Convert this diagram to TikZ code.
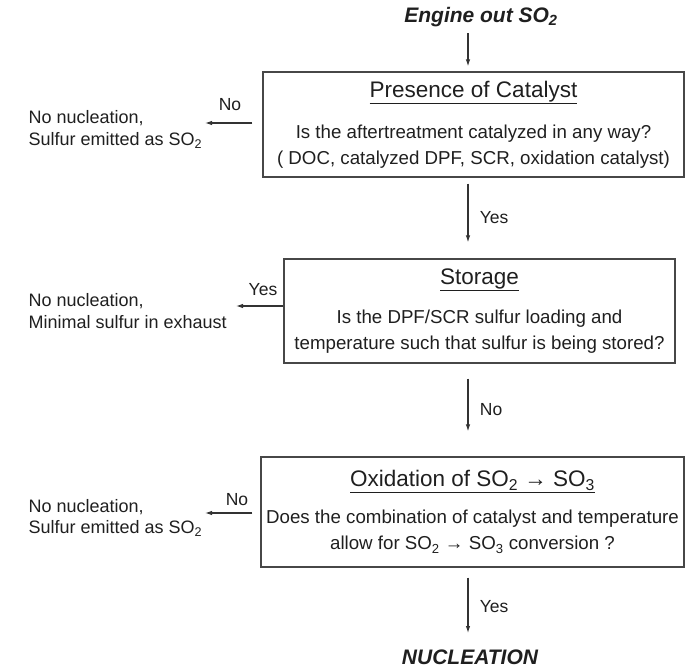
\documentclass[tikz,border=0pt]{standalone}
\usepackage{fontspec}
\setmainfont{Liberation Sans}
\usetikzlibrary{arrows.meta}

\newcommand{\sub}[1]{\textsubscript{#1}}

\begin{document}
\begin{tikzpicture}[x=1pt,y=-1pt,
	every node/.style={text=black!88},
	box/.style={draw=black!72,line width=1.2pt,inner sep=0pt,align=center,
		font=\fontsize{18.7}{26}\selectfont},
	side/.style={anchor=west,align=left,font=\fontsize{18}{21.5}\selectfont},
	lbl/.style={font=\fontsize{17.5}{20}\selectfont},
	big/.style={font=\fontsize{21}{25}\selectfont\bfseries\itshape},
	arr/.style={-{Latex[length=7pt,width=4.5pt]},draw=black!80,line width=1.1pt}]
	\useasboundingbox (0,0) rectangle (685,671);
	\coordinate (axis) at (468,0);

	\node[big] (src) at (481,17) {Engine out SO\sub{2}};
	\node[box,minimum width=421pt,minimum height=105pt] (cat) at (473.5,124.5)
		{{\fontsize{22.5}{26}\selectfont\underline{Presence of Catalyst}}\\[15pt]
		Is the aftertreatment catalyzed in any way?\\
		( DOC, catalyzed DPF, SCR, oxidation catalyst)};
	\node[box,minimum width=391pt,minimum height=104pt] (sto) at (479.5,311)
		{{\fontsize{22.5}{26}\selectfont\underline{Storage}}\\[13pt]
		Is the DPF/SCR sulfur loading and\\
		temperature such that sulfur is being stored?};
	\node[box,minimum width=423pt,minimum height=110pt] (oxi) at (472.5,512)
		{{\fontsize{22.5}{26}\selectfont\underline{Oxidation of SO\sub{2} → SO\sub{3}}}\\[11pt]
		Does the combination of catalyst and temperature\\
		allow for SO\sub{2} → SO\sub{3} conversion ?};
	\node[big] (nuc) at (470,657) {NUCLEATION};

	\node[side] (out1) at (25,129.5) {No nucleation,\\Sulfur emitted as SO\sub{2}};
	\node[side] (out2) at (25,311) {No nucleation,\\Minimal sulfur in exhaust};
	\node[side] (out3) at (25,518) {No nucleation,\\Sulfur emitted as SO\sub{2}};

	\coordinate (e1) at (205,123);
	\coordinate (e2) at (236,306);
	\coordinate (e3) at (205,513);

	% main line
	\draw[arr,shorten <=3pt,shorten >=5pt] (src.south -| axis) -- (cat.north -| axis);
	\draw[arr,shorten <=6pt,shorten >=16pt] (cat.south -| axis) -- (sto.north -| axis)
		node[lbl,midway,right=8pt] {Yes};
	\draw[arr,shorten <=15pt,shorten >=25pt] (sto.south -| axis) -- (oxi.north -| axis)
		node[lbl,midway,right=8pt] {No};
	\draw[arr,shorten <=10pt,shorten >=13pt] (oxi.south -| axis) -- (nuc.north -| axis)
		node[lbl,midway,right=8pt] {Yes};

	% side exits
	\draw[arr,shorten <=10pt] (cat.west |- e1) -- (e1);
	\draw[arr] (sto.west |- e2) -- (e2);
	\draw[arr,shorten <=8pt] (oxi.west |- e3) -- (e3);
	\node[lbl] (no1) at (230,105) {No};
	\node[lbl] (yes2) at (263,290) {Yes};
	\node[lbl] (no3) at (237,500) {No};
\end{tikzpicture}
\end{document}
